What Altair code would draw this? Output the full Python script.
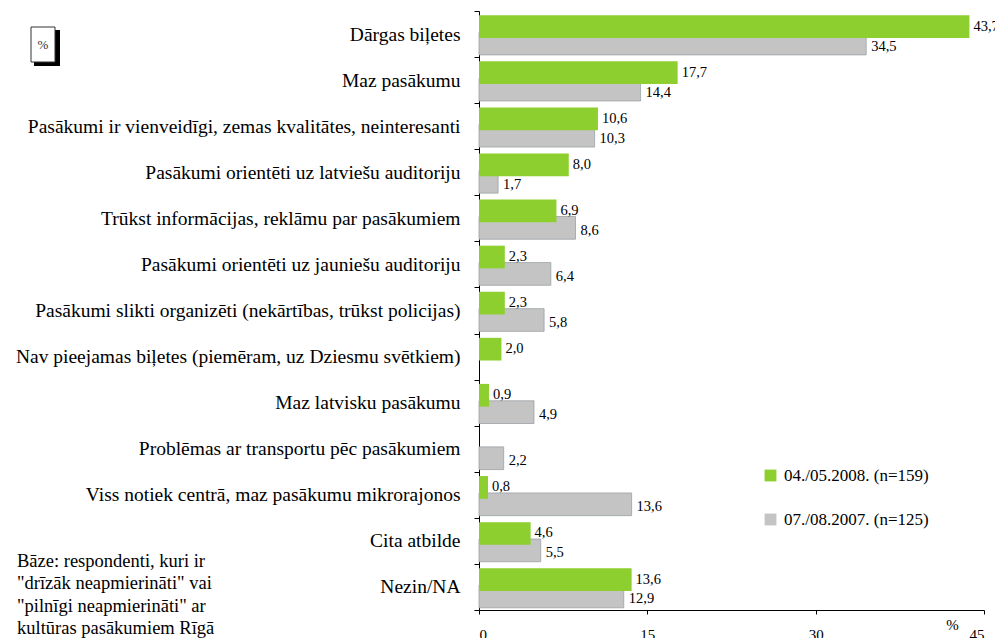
import altair as alt
import pandas as pd

categories = [
    "Dārgas biļetes",
    "Maz pasākumu",
    "Pasākumi ir vienveidīgi, zemas kvalitātes, neinteresanti",
    "Pasākumi orientēti uz latviešu auditoriju",
    "Trūkst informācijas, reklāmu par pasākumiem",
    "Pasākumi orientēti uz jauniešu auditoriju",
    "Pasākumi slikti organizēti (nekārtības, trūkst policijas)",
    "Nav pieejamas biļetes (piemēram, uz Dziesmu svētkiem)",
    "Maz latvisku pasākumu",
    "Problēmas ar transportu pēc pasākumiem",
    "Viss notiek centrā, maz pasākumu mikrorajonos",
    "Cita atbilde",
    "Nezin/NA",
]
values_2008 = [43.7, 17.7, 10.6, 8.0, 6.9, 2.3, 2.3, 2.0, 0.9, None, 0.8, 4.6, 13.6]
values_2007 = [34.5, 14.4, 10.3, 1.7, 8.6, 6.4, 5.8, None, 4.9, 2.2, 13.6, 5.5, 12.9]
series_names = ["04./05.2008. (n=159)", "07./08.2007. (n=125)"]
series_colors = ["#8dcf2e", "#c4c4c4"]
x_ticks = [0, 15, 30, 45]
base_text = [
    "Bāze: respondenti, kuri ir",
    "\"drīzāk neapmierināti\" vai",
    "\"pilnīgi neapmierināti\" ar",
    "kultūras pasākumiem Rīgā",
]

FONT = "Liberation Serif"


def make_df(vals, name):
    rows = []
    for c, v in zip(categories, vals):
        if v is None:
            continue
        rows.append({"cat": c, "val": v, "series": name,
                     "label": f"{v:.1f}".replace(".", ",")})
    return pd.DataFrame(rows)


df08 = make_df(values_2008, series_names[0])
df07 = make_df(values_2007, series_names[1])

BAR_H = 22.7
G_OFF = -7.4
S_OFF = 9.5

y_enc = alt.Y(
    "cat:N",
    sort=categories,
    scale=alt.Scale(domain=categories, paddingInner=0, paddingOuter=0),
    axis=alt.Axis(
        title=None,
        labelFont=FONT,
        labelFontSize=19.5,
        labelColor="black",
        labelLimit=700,
        labelPadding=14,
        tickSize=5,
        tickColor="black",
        domainColor="black",
        tickBand="extent",
        grid=False,
    ),
)
x_enc = alt.X(
    "val:Q",
    scale=alt.Scale(domain=[0, 45], nice=False),
    axis=alt.Axis(
        values=x_ticks,
        title="%",
        titleFont=FONT,
        titleFontSize=15,
        titleFontWeight="normal",
        titleColor="black",
        titleX=473,
        titleY=14,
        titleBaseline="middle",
        titleAlign="center",
        titleAngle=0,
        labelFont=FONT,
        labelFontSize=15,
        labelColor="black",
        labelPadding=13,
        tickSize=4,
        tickColor="black",
        domainColor="black",
        grid=False,
    ),
)
color_enc = alt.Color(
    "series:N",
    scale=alt.Scale(domain=series_names, range=series_colors),
    legend=alt.Legend(
        title=None,
        orient="none",
        legendX=283,
        legendY=456,
        symbolType="square",
        symbolSize=140,
        symbolStrokeWidth=0,
        labelFont=FONT,
        labelFontSize=17,
        labelColor="black",
        labelOffset=5,
        rowPadding=26,
        padding=0,
    ),
)

bars07 = alt.Chart(df07).mark_bar(
    size=BAR_H, yOffset=S_OFF, stroke="#9ba1a6", strokeWidth=0.8
).encode(x=x_enc, y=y_enc, color=color_enc)
bars08 = alt.Chart(df08).mark_bar(size=BAR_H, yOffset=G_OFF).encode(
    x=x_enc, y=y_enc, color=color_enc
)
text07 = alt.Chart(df07).mark_text(
    align="left", baseline="middle", dx=5, yOffset=S_OFF + 3,
    font=FONT, fontSize=14.5, color="black"
).encode(x="val:Q", y=alt.Y("cat:N", sort=categories), text="label:N")
text08 = alt.Chart(df08).mark_text(
    align="left", baseline="middle", dx=4, yOffset=G_OFF,
    font=FONT, fontSize=14.5, color="black"
).encode(x="val:Q", y=alt.Y("cat:N", sort=categories), text="label:N")

# "%" box with shadow (top-left)
shadow = alt.Chart(pd.DataFrame({"a": [0]})).mark_rect(color="black").encode(
    x=alt.value(-445), x2=alt.value(-419), y=alt.value(19), y2=alt.value(55)
)
box = alt.Chart(pd.DataFrame({"a": [0]})).mark_rect(
    fill="white", stroke="#333333", strokeWidth=1
).encode(x=alt.value(-448), x2=alt.value(-424), y=alt.value(16), y2=alt.value(51))
box_text = alt.Chart(pd.DataFrame({"t": ["%"]})).mark_text(
    font=FONT, fontSize=13, color="#333333", align="center", baseline="middle"
).encode(x=alt.value(-436), y=alt.value(34), text="t:N")

base_df = pd.DataFrame({"t": [base_text]})
base = alt.Chart(base_df).mark_text(
    font=FONT, fontSize=18.5, color="black", align="left",
    baseline="alphabetic", lineHeight=22.5
).encode(x=alt.value(-462), y=alt.value(555.5), text="t")

chart = alt.layer(
    bars07, bars08, text07, text08, shadow, box, box_text, base
).properties(
    width=505,
    height=599,
    autosize=alt.AutoSizeParams(type="none"),
    padding={"left": 471, "top": 3, "right": 11, "bottom": 30},
).configure_view(stroke=None)

chart.save("out.html", embed_options={"renderer": "svg", "actions": False})
